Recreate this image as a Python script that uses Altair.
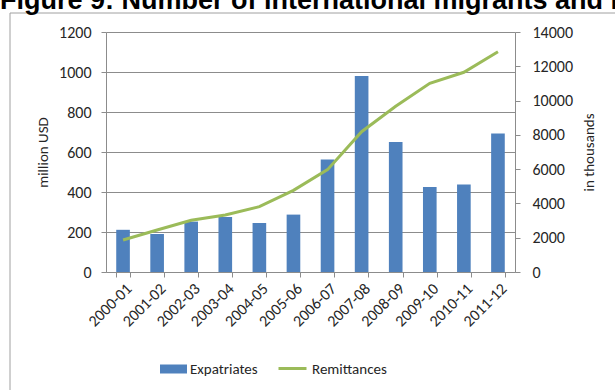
import altair as alt
import pandas as pd

TITLE = "Figure 9: Number of international migrants and remittances"
years = ["2000-01", "2001-02", "2002-03", "2003-04", "2004-05", "2005-06",
         "2006-07", "2007-08", "2008-09", "2009-10", "2010-11", "2011-12"]
expatriates = [211, 190, 252, 275, 245, 287, 563, 980, 650, 425, 437, 692]
remittances = [1870, 2450, 3015, 3325, 3810, 4765, 5970, 8185, 9665, 11005, 11650, 12850]
left_ticks = [0, 200, 400, 600, 800, 1000, 1200]
right_ticks = [0, 2000, 4000, 6000, 8000, 10000, 12000, 14000]

df = pd.DataFrame({
    "year": years,
    "expat": expatriates,
    "remit": remittances,
    "s1": ["Expatriates"] * len(years),
    "s2": ["Remittances"] * len(years),
})

FONT = "Carlito, Lato, sans-serif"
GRID = "#8c8c8c"
TXT = "#262626"
BLUE = "#4F81BD"
GREEN = "#9BBB59"

xenc = alt.X("year:N", sort=years,
             scale=alt.Scale(paddingInner=0.6, paddingOuter=0.3),
             axis=alt.Axis(title=None, labelAngle=-45, tickBand="extent",
                           domainColor=GRID, tickColor=GRID, tickSize=5,
                           labelFont=FONT, labelFontSize=16, labelColor=TXT,
                           labelPadding=3, grid=False))

bars = alt.Chart(df).mark_bar(stroke=None).encode(
    x=xenc,
    y=alt.Y("expat:Q", scale=alt.Scale(domain=[0, 1200], nice=False),
            axis=alt.Axis(title="million USD", values=left_ticks, orient="left", format="d",
                          grid=True, gridColor=GRID, domainColor=GRID, tickColor=GRID,
                          tickSize=5, labelFont=FONT, labelFontSize=16, labelColor=TXT,
                          labelPadding=10, titleFont=FONT, titleFontSize=15,
                          titleFontWeight="normal", titleColor=TXT, titlePadding=8)),
    fill=alt.Fill("s1:N", scale=alt.Scale(domain=["Expatriates"], range=[BLUE]),
                  legend=alt.Legend(title=None, orient="none", legendX=54, legendY=328,
                                    symbolType="M-1,-0.5H2V0.5H-1Z", symbolSize=324,
                                    symbolStrokeWidth=0, labelOffset=12, padding=0,
                                    labelFont=FONT, labelFontSize=15, labelColor=TXT)),
)

line = alt.Chart(df).mark_line(strokeWidth=3).encode(
    x=alt.X("year:N", sort=years),
    y=alt.Y("remit:Q", scale=alt.Scale(domain=[0, 14000], nice=False),
            axis=alt.Axis(title="in thousands", values=right_ticks, orient="right", format="d",
                          grid=False, domainColor=GRID, tickColor=GRID,
                          tickSize=5, labelFont=FONT, labelFontSize=16, labelColor=TXT,
                          labelPadding=12, titleFont=FONT, titleFontSize=15, titleAngle=270,
                          titleFontWeight="normal", titleColor=TXT, titlePadding=24)),
    stroke=alt.Stroke("s2:N", scale=alt.Scale(domain=["Remittances"], range=[GREEN]),
                      legend=alt.Legend(title=None, orient="none", legendX=171, legendY=321,
                                        symbolType="stroke", symbolSize=784,
                                        symbolStrokeWidth=3, labelOffset=4, padding=0,
                                        labelFont=FONT, labelFontSize=15, labelColor=TXT)),
)

frame = alt.Chart(pd.DataFrame({"k": [0]})).mark_rect(
    fillOpacity=0, stroke="#a0a0a0", strokeWidth=1
).encode(x=alt.value(-96), x2=alt.value(530), y=alt.value(-19), y2=alt.value(380))

title = alt.Chart(pd.DataFrame({"t": [TITLE]})).mark_text(
    font="Liberation Sans", fontSize=27, fontWeight="bold", align="left",
    baseline="alphabetic", color="#000000"
).encode(text="t:N", x=alt.value(-106), y=alt.value(-23))

chart = alt.layer(frame, bars, line, title).resolve_scale(
    y="independent", fill="independent", stroke="independent"
).properties(
    width=409, height=240,
    autosize=alt.AutoSizeParams(type="none"),
    padding={"left": 106, "top": 32, "right": 100, "bottom": 118},
    background="white",
).configure_view(stroke=None)

chart.save("out.html", embed_options={"renderer": "svg", "actions": False})
